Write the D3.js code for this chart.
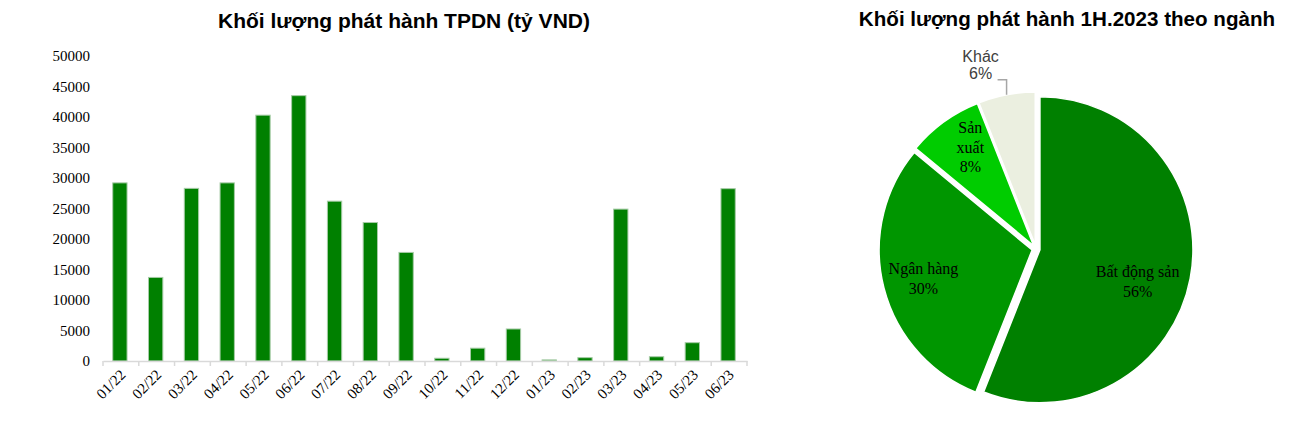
<!DOCTYPE html>
<html>
<head>
<meta charset="utf-8">
<script src="https://cdn.jsdelivr.net/npm/d3@7/dist/d3.min.js"></script>
<style>
  html, body { margin: 0; padding: 0; background: #ffffff; }
  svg { display: block; }
</style>
</head>
<body>
<svg id="chart" width="1289" height="426"></svg>
<script>
// ---------- Data ----------
const months = ["01/22","02/22","03/22","04/22","05/22","06/22","07/22","08/22","09/22",
                "10/22","11/22","12/22","01/23","02/23","03/23","04/23","05/23","06/23"];
const issuance = [29200, 13700, 28300, 29200, 40300, 43500, 26200, 22700, 17800,
                  450, 2100, 5250, 180, 550, 24900, 700, 3000, 28250];
const yTicks = [0, 5000, 10000, 15000, 20000, 25000, 30000, 35000, 40000, 45000, 50000];

const sectors = ["Bất động sản", "Ngân hàng", "Sản xuất", "Khác"];
const sectorShares = [56, 30, 8, 6];

const barTitle = "Khối lượng phát hành TPDN (tỷ VND)";
const pieTitle = "Khối lượng phát hành 1H.2023 theo ngành";

// ---------- Setup ----------
const svg = d3.select("#chart");
const SERIF = "'Liberation Serif', 'Times New Roman', serif";
const SANS = "'Liberation Sans', Arial, sans-serif";

// ---------- Bar chart ----------
const plot = { left: 103, right: 747, top: 56, bottom: 361 };

const x = d3.scaleBand().domain(months).range([plot.left, plot.right]).padding(0);
const y = d3.scaleLinear().domain([0, 50000]).range([plot.bottom, plot.top]);

svg.append("text")
  .attr("x", 404).attr("y", 28)
  .attr("text-anchor", "middle")
  .attr("font-family", SANS).attr("font-weight", "bold").attr("font-size", 21)
  .attr("fill", "#000")
  .text(barTitle);

// y axis (labels only)
const yAxis = svg.append("g")
  .attr("transform", `translate(${plot.left},0)`)
  .call(d3.axisLeft(y).tickValues(yTicks).tickSize(0).tickPadding(13).tickFormat(d3.format("d")));
yAxis.select(".domain").remove();
yAxis.selectAll("text").attr("font-family", SERIF).attr("font-size", 15).attr("fill", "#000");

// bars
const bw = x.bandwidth() * 0.4;
svg.append("g").selectAll("rect")
  .data(months)
  .join("rect")
  .attr("x", (d) => x(d) + x.bandwidth() / 2 - bw / 2 - 1)
  .attr("width", bw)
  .attr("y", (d, i) => y(issuance[i]))
  .attr("height", (d, i) => y(0) - y(issuance[i]))
  .attr("fill", "#008000")
  .attr("stroke", "#a6cba6")
  .attr("stroke-width", 1);

// x axis
const xAxis = svg.append("g")
  .attr("transform", `translate(0,${plot.bottom})`)
  .call(d3.axisBottom(x).tickSize(0).tickPadding(0));
xAxis.select(".domain").attr("stroke", "#d9d9d9").attr("stroke-width", 1.5);
xAxis.selectAll(".tick text")
  .attr("font-family", SERIF).attr("font-size", 15).attr("fill", "#000")
  .attr("text-anchor", "end")
  .attr("dy", "0.35em")
  .attr("transform", "translate(2,11) rotate(-45)")
  .attr("y", 0);
// boundary ticks
xAxis.append("g").selectAll("line")
  .data(d3.range(months.length + 1))
  .join("line")
  .attr("x1", (i) => plot.left + i * x.step())
  .attr("x2", (i) => plot.left + i * x.step())
  .attr("y1", 0).attr("y2", 5)
  .attr("stroke", "#d9d9d9").attr("stroke-width", 1.5);

// ---------- Pie chart ----------
svg.append("text")
  .attr("x", 1067).attr("y", 26)
  .attr("text-anchor", "middle")
  .attr("font-family", SANS).attr("font-weight", "bold").attr("font-size", 20.6)
  .attr("fill", "#000")
  .text(pieTitle);

const pc = { x: 1036, y: 249 };
const R = 153;
const explode = 4;
const colors = d3.scaleOrdinal().domain(sectors).range(["#008000", "#009600", "#00cc00", "#ebefe0"]);

const pie = d3.pie().sort(null).value((d, i) => sectorShares[i]);
const arcs = pie(sectors);
const arc = d3.arc().innerRadius(0).outerRadius(R);

const pieG = svg.append("g").attr("transform", `translate(${pc.x},${pc.y})`);

function midDir(a) {
  const m = (a.startAngle + a.endAngle) / 2;
  return [Math.sin(m), -Math.cos(m)];
}

pieG.selectAll("path")
  .data(arcs)
  .join("path")
  .attr("d", arc)
  .attr("transform", (a) => {
    const [dx, dy] = midDir(a);
    return `translate(${dx * explode},${dy * explode})`;
  })
  .attr("fill", (a) => colors(a.data))
  .attr("stroke", "#ffffff")
  .attr("stroke-width", 1.5);

// inside labels (serif) — placed along mid-angle
const labelPlacement = {
  "Bất động sản": { r: 0.67, dx: -3, dy: 13, lines: ["Bất động sản"] },
  "Ngân hàng": { r: 0.74, dx: 1, dy: 1, lines: ["Ngân hàng"] },
  "Sản xuất": { r: 0.76, dx: 5, dy: -4, lines: ["Sản", "xuất"] }
};
arcs.forEach((a, i) => {
  const name = a.data;
  const pct = sectorShares[i] + "%";
  const [dx, dy] = midDir(a);
  if (labelPlacement[name]) {
    const lp = labelPlacement[name];
    const cx = (R * lp.r + explode) * dx + lp.dx;
    const cy = (R * lp.r + explode) * dy + lp.dy;
    const lines = lp.lines.concat([pct]);
    const lh = 19.5;
    const t = pieG.append("text")
      .attr("text-anchor", "middle")
      .attr("font-family", SERIF).attr("font-size", 16).attr("fill", "#000");
    lines.forEach((ln, k) => {
      t.append("tspan")
        .attr("x", cx)
        .attr("y", cy + (k - (lines.length - 1) / 2) * lh + 5)
        .text(ln);
    });
  } else {
    // outside label with leader line
    const p0 = [(R + explode) * dx, (R + explode) * dy];
    const p1 = [p0[0], p0[1] - 15];
    const p2 = [p1[0] - 9, p1[1]];
    pieG.append("polyline")
      .attr("points", [p0, p1, p2].map((p) => p.join(",")).join(" "))
      .attr("fill", "none").attr("stroke", "#a6a6a6").attr("stroke-width", 1.5);
    const tx = p2[0] - 17;
    const t = pieG.append("text")
      .attr("text-anchor", "middle")
      .attr("font-family", SANS).attr("font-size", 16).attr("fill", "#404040");
    t.append("tspan").attr("x", tx).attr("y", p2[1] - 18).text(name);
    t.append("tspan").attr("x", tx).attr("y", p2[1] - 1).text(pct);
  }
});
</script>
</body>
</html>
